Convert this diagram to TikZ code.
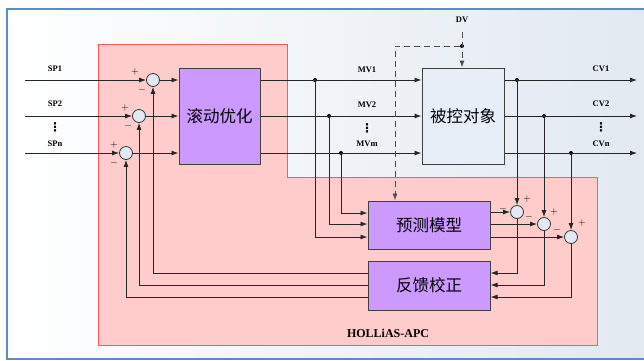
\documentclass[tikz,border=0pt]{standalone}
\usepackage{fontspec}
\setmainfont{Liberation Serif}
\newfontfamily\cjk{Noto Sans CJK SC}
\newfontfamily\djv{DejaVu Sans}
\usetikzlibrary{arrows.meta}

\definecolor{apcpink}{HTML}{FFCCCC}
\definecolor{apcred}{HTML}{FF5A5A}
\definecolor{boxlav}{HTML}{CC99FF}
\definecolor{plantbg}{HTML}{E8EEF8}
\definecolor{sumbg}{HTML}{E1E9F5}
\definecolor{framebl}{HTML}{5B8BC8}
\definecolor{bgblue}{HTML}{E2E9F1}
\newcommand\cjkbig{\cjk\fontsize{16.5}{18}\selectfont}
\newcommand\tridots{{\djv\bfseries\fontsize{12}{12}\selectfont ⋮}}

\begin{document}
\begin{tikzpicture}[x=1pt, y=-1pt, >={Latex[length=7pt,width=5pt]},
  blk/.style={draw=black!75, line width=1pt, fill=boxlav, inner sep=0pt, font=\cjkbig},
  sumc/.style={circle, draw=black!80, line width=0.8pt, fill=sumbg, minimum size=13pt, inner sep=0pt},
  jdot/.style={circle, fill=black, inner sep=0pt, minimum size=4pt},
  sig/.style={font=\bfseries\fontsize{8.5}{9}\selectfont, inner sep=0pt},
  sgn/.style={font=\fontsize{10}{10}\selectfont, inner sep=0pt},
  wire/.style={draw=black!85, line width=0.9pt}]

  % background and frame
  \useasboundingbox (0,0) rectangle (644,360);
  \fill[white] (0,0) rectangle (644,360);
  \shade[left color=white, right color=bgblue] (7,9) rectangle (646,359);
  \draw[framebl, line width=1.3pt] (646,9) -- (7,9) -- (7,359) -- (646,359);

  % APC region
  \draw[apcred, fill=apcpink, line width=1pt]
    (98,44) -- (287,44) -- (287,177) -- (597,177) -- (597,345) -- (98,345) -- cycle;
  \node[font=\bfseries\fontsize{12}{12}\selectfont] (apc) at (388,333) {HOLLiAS-APC};

  % blocks
  \node[blk, minimum width=81pt, minimum height=96pt] (opt) at (219.5,116) {滚动优化};
  \node[blk, fill=plantbg, minimum width=82pt, minimum height=96pt] (plant) at (463,116) {被控对象};
  \node[blk, minimum width=122pt, minimum height=48pt] (pred) at (429,225) {预测模型};
  \node[blk, minimum width=122pt, minimum height=49pt] (fb) at (429,285.5) {反馈校正};

  % summing points
  \node[sumc] (s1) at (153,80) {};
  \node[sumc] (s2) at (139,116) {};
  \node[sumc] (s3) at (126,153) {};
  \node[sumc] (c1) at (517,212) {};
  \node[sumc] (c2) at (544,224) {};
  \node[sumc] (c3) at (571,237) {};

  % junctions and free ends
  \foreach \n/\x/\y in {j1/315/80, j2/329/116, j3/341/153, k1/517/80, k2/544/116, k3/571/153, dvj/462/46}
    \node[jdot] (\n) at (\x,\y) {};
  \foreach \i/\y in {1/80, 2/116, 3/153} {
    \coordinate (sp\i) at (25,\y);
    \coordinate (cv\i) at (637,\y);
  }
  \coordinate (dvs) at (462,32);

  % signal labels
  \node[sig] (lsp1) at (55,69) {SP1};
  \node[sig] (lsp2) at (55,104) {SP2};
  \node[sig] (lspd) at (55,127) {\tridots};
  \node[sig] (lspn) at (55,144) {SPn};
  \node[sig] (lmv1) at (367,70) {MV1};
  \node[sig] (lmv2) at (367,105) {MV2};
  \node[sig] (lmvd) at (367,128) {\tridots};
  \node[sig] (lmvm) at (367,144) {MVm};
  \node[sig] (lcv1) at (601,69) {CV1};
  \node[sig] (lcv2) at (601,104) {CV2};
  \node[sig] (lcvd) at (601,127) {\tridots};
  \node[sig] (lcvn) at (601,144) {CVn};
  \node[sig] (ldv) at (462,20) {DV};

  % signs at summing points
  \foreach \n/\x/\y/\t in {ps1/135/72/+, ms1/142/90/-, ps2/125/108/+, ms2/128/126/-,
      ps3/114/145/+, ms3/114/163/-, mc1/503/209/-, pc1/527/199/+,
      mc2/529/217/-, pc2/554/212/+, mc3/557/230/-, pc3/582/223/+}
    \node[sgn] (\n) at (\x,\y) {$\t$};

  % set points into the optimiser
  \foreach \i in {1,2,3} {
    \draw[wire,->] (sp\i) -- (s\i);
    \draw[wire,->] (s\i) -- (s\i -| opt.west);
  }

  % manipulated variables
  \foreach \i in {1,2,3}
    \draw[wire,->] (opt.east |- j\i) -- (j\i -| plant.west);
  \draw[wire,->] (j1) |- (pred.west |- 0,237);
  \draw[wire,->] (j2) |- (pred.west |- 0,224);
  \draw[wire,->] (j3) |- (pred.west |- 0,213);

  % controlled variables and comparison
  \foreach \i in {1,2,3} {
    \draw[wire,->] (plant.east |- k\i) -- (cv\i);
    \draw[wire,->] (k\i) -- (c\i);
    \draw[wire,->] (pred.east |- c\i) -- (c\i);
  }
  \draw[wire,->] (c1) |- (fb.east |- 0,273);
  \draw[wire,->] (c2) |- (fb.east |- 0,285);
  \draw[wire,->] (c3) |- (fb.east |- 0,297);

  % feedback correction back to the summing points
  \draw[wire,->] (fb.west |- 0,273) -| (s1);
  \draw[wire,->] (fb.west |- 0,285) -| (s2);
  \draw[wire,->] (fb.west |- 0,297) -| (s3);

  % disturbance
  \draw[wire, black!70, dash pattern=on 6pt off 4pt, ->] (dvs) -- (plant.north -| dvs);
  \draw[wire, black!70, dash pattern=on 6pt off 4pt, ->] (dvj) -| (pred.north -| 395,0);
\end{tikzpicture}
\end{document}
